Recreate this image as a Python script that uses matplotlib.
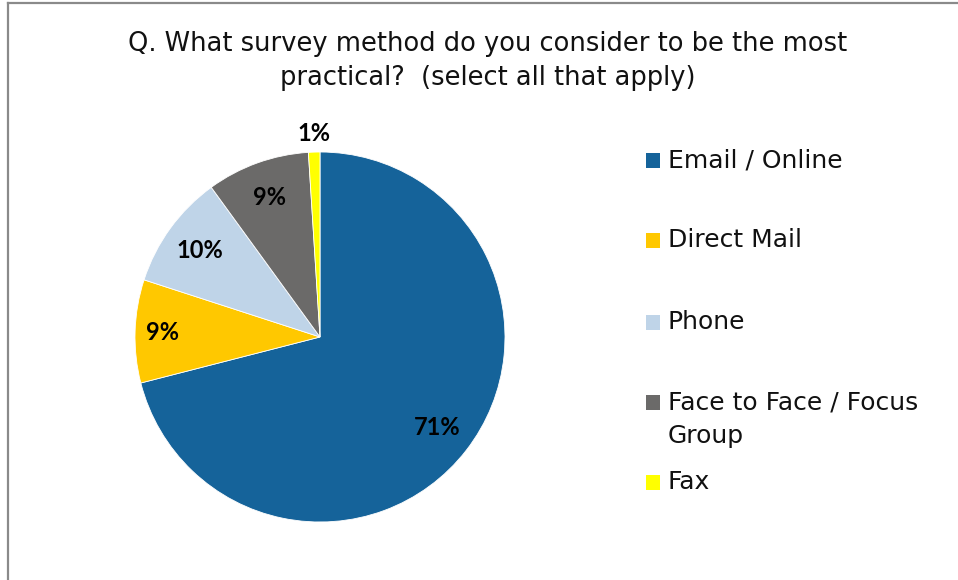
import matplotlib
matplotlib.use("Agg")
import matplotlib.pyplot as plt
import numpy as np
from matplotlib.patches import Rectangle
from matplotlib.lines import Line2D

# Survey responses (share of respondents, %)
categories = ["Email / Online", "Direct Mail", "Phone",
              "Face to Face / Focus\nGroup", "Fax"]
values = [71, 9, 10, 9, 1]
colors = ["#15639A", "#FFC800", "#BFD4E8", "#6B6A69", "#FFFF00"]
title = "Q. What survey method do you consider to be the most\npractical?  (select all that apply)"

W, H = 958, 580
fig = plt.figure(figsize=(W / 100, H / 100), dpi=100)
fig.patch.set_facecolor("white")

# chart frame (top and left edges)
frame_col = "#8A8A8A"
fig.add_artist(Line2D([8 / W, 1.0], [1 - 3 / H, 1 - 3 / H], transform=fig.transFigure,
                      color=frame_col, lw=1.6))
fig.add_artist(Line2D([8 / W, 8 / W], [0.0, 1 - 3 / H], transform=fig.transFigure,
                      color=frame_col, lw=1.6))

fig.text(488 / W, 1 - 61 / H, title, ha="center", va="center", fontsize=18.5,
         family="DejaVu Sans", color="#111111", linespacing=1.37)

# pie axes: centre (320, 337), radius 185 px
cx, cy, r = 320, 337, 185
ax = fig.add_axes([(cx - r) / W, (H - cy - r) / H, 2 * r / W, 2 * r / H])

wedges, texts, autotexts = ax.pie(
    values, colors=colors, startangle=90, counterclock=False, radius=1.0,
    autopct=lambda p: f"{p:.0f}%", pctdistance=0.8,
    wedgeprops=dict(edgecolor="white", linewidth=0.6),
    textprops=dict(fontsize=17, fontweight="bold", family="Lato", color="black"),
)
ax.set_xlim(-1, 1)
ax.set_ylim(-1, 1)
ax.set_aspect("equal")
ax.axis("off")

# small Fax slice: label sits just outside the pie
w = wedges[-1]
mid = np.deg2rad((w.theta1 + w.theta2) / 2)
autotexts[-1].set_position((1.1 * np.cos(mid), 1.1 * np.sin(mid)))
# direct mail label a bit further out
w = wedges[1]
mid = np.deg2rad((w.theta1 + w.theta2) / 2)
autotexts[1].set_position((0.85 * np.cos(mid), 0.85 * np.sin(mid)))

# legend
leg_y = [160, 240, 322, 402, 482]
for lab, col, y in zip(categories, colors, leg_y):
    fig.add_artist(Rectangle((646 / W, 1 - (y + 8) / H), 14 / W, 15 / H,
                             transform=fig.transFigure, facecolor=col, edgecolor="none"))
    fig.text(668 / W, 1 - (y - 12) / H, lab, ha="left", va="top", fontsize=18,
             family="DejaVu Sans", color="#111111", linespacing=1.5)

fig.savefig("out.png", dpi=100, facecolor="white")
